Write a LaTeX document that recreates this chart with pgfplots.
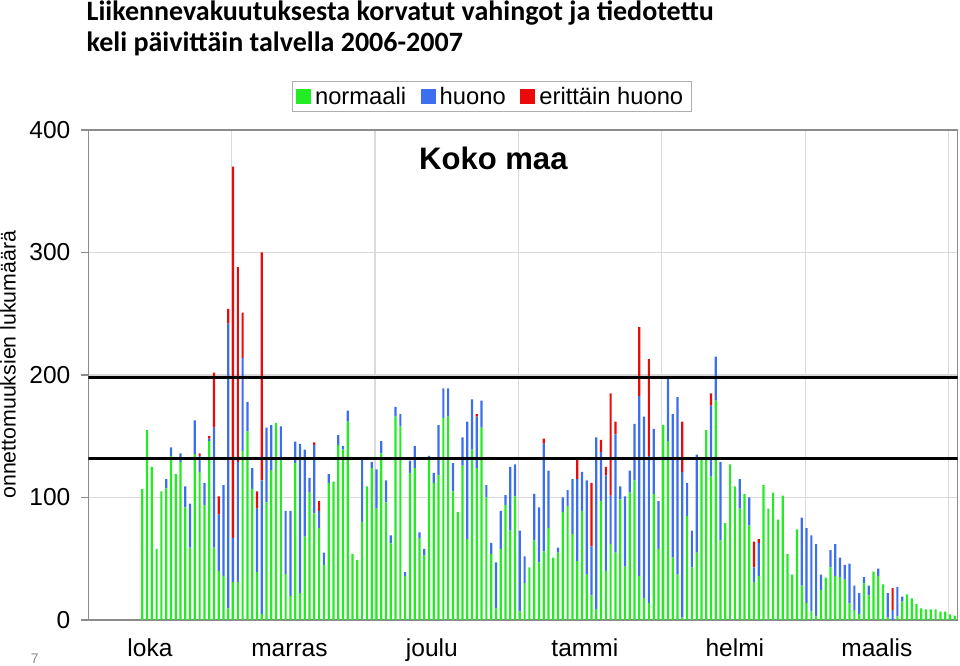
\documentclass[border=0pt]{standalone}
\usepackage{fontspec}
\setmainfont{Liberation Sans}
\newfontfamily\titlefont{Carlito}
\usepackage{pgfplots}
\usepackage{pgfplotstable}
\pgfplotsset{compat=1.18}
\definecolor{cgreen}{RGB}{36,236,36}
\definecolor{cblue}{RGB}{60,110,240}
\definecolor{cred}{RGB}{235,10,10}
\definecolor{framegray}{RGB}{140,140,140}
\definecolor{gridgray}{RGB}{218,218,218}
\pgfplotstableread{
x g b r
0 107 0 0
1 155 0 0
2 125 0 0
3 58 0 0
4 105 0 0
5 107.5 7.5 0
6 134 7 0
7 119 0 0
8 129 7 0
9 92 17 0
10 59 36 0
11 135.5 27.5 0
12 121 13 2
13 94 18 0
14 146 2 2
15 59 98 45
16 40 46 15
17 36 74 0
18 9.5 232.5 12
19 31 36 303
20 31 98 159
21 138 76 37
22 154 24 0
23 107 17 0
24 39 52 14
25 5 109 186
26 96 61 0
27 122 37 0
28 161 0 0
29 131 27 0
30 37.5 51.5 0
31 19.6 69.4 0
32 128 17.6 0
33 22 121.7 0
34 68 71 0
35 104 12 0
36 87 56 2
37 75 14 8
38 45 10 0
39 112 7 0
40 113 0 0
41 143 8 0
42 139 3 0
43 162 9 0
44 54 0 0
45 49 0 0
46 80 52 0
47 109 0 0
48 124 5 0
49 91 32 0
50 136 10 0
51 96 18 0
52 62.5 6.5 0
53 166 8 0
54 158 10 0
55 36 3 0
56 120 10 0
57 124 18 0
58 67 4.6 0
59 52.5 5.5 0
60 133 1 0
61 112 8 0
62 118 41 0
63 165 24 0
64 166 23 0
65 105 23 0
66 88 0 0
67 126 23 0
68 66 96 0
69 139 41 0
70 124 42 2
71 157 22 0
72 100 10 0
73 54 9 0
74 9.5 37.5 0
75 58 31 0
76 94 8 0
77 73 52 0
78 101 26 0
79 7 66 0
80 30 22 0
81 43 0 0
82 65 38 0
83 47 45 0
84 56 88 4
85 75 47 0
86 51 0 0
87 55 4 0
88 88 12 0
89 93 13 0
90 70 45 0
91 48 67 16
92 89 32 0
93 37 77 0
94 20 40 52
95 9 140 0
96 97 40 10
97 40 78 7
98 62 39.5 83.5
99 55 96.6 10.4
100 98.5 10.5 0
101 43.5 57.5 0
102 104 18 0
103 114 46 0
104 36 147 56
105 18 148 0
106 14 120 79
107 103 53 0
108 58 39 0
109 159 0 0
110 146 52 0
111 51 117 0
112 37 145 0
113 2 119 41
114 85 27 0
115 43 30 0
116 55 80 0
117 132 0 0
118 155 0 0
119 117 58 10
120 179 36 0
121 65 64 0
122 79 0 0
123 127 0 0
124 109 0 0
125 91 24 0
126 103 0 0
127 77 23 0
128 31 12 21
129 36 27 3
130 110 0 0
131 91 0 0
132 104 0 0
133 82 0 0
134 101.5 0 0
135 54 0 0
136 37 0 0
137 74 0 0
138 28 55.5 0
139 14 61 0
140 7 62 0
141 3 59 0
142 24.5 12.5 0
143 34.5 0 0
144 43 14 0
145 36 26 0
146 35 16 0
147 33 12 0
148 13.6 32.4 0
149 8 20 0
150 5 17 0
151 30 5 0
152 20 8 0
153 39.5 0 0
154 36 6 0
155 29 0 0
156 2 20 0
157 0 8 18
158 3 24 0
159 15 4 0
160 21 0 0
161 17.7 0 0
162 13 0 0
163 9.5 0 0
164 8.7 0 0
165 8.7 0 0
166 8.7 0 0
167 6.8 0 0
168 6.8 0 0
169 4.6 0 0
170 3.5 0 0
}\datatable
\begin{document}
\begin{tikzpicture}
\path[use as bounding box] (0pt,0pt) rectangle (720pt,499.5pt);
\begin{axis}[
  at={(66.2pt,34.5pt)}, anchor=south west, scale only axis,
  width=652pt, height=367.5pt,
  xmin=-11.3, xmax=170.6, ymin=0, ymax=400,
  ybar stacked, bar width=1.65pt,
  ytick={0,100,...,400},
  xtick={18.7,48.7,78.7,108.7,138.7,168.7}, xticklabels={},
  xtick style={draw=none},
  extra x ticks={1.6,30.8,60.6,92.6,124,153.7},
  extra x tick labels={loka,marras,joulu,tammi,helmi,maalis},
  extra x tick style={grid=none, major tick length=0pt,
     xticklabel style={anchor=base, yshift=-27.75pt}},
  ymajorgrids, xmajorgrids,
  major grid style={draw=gridgray, line width=0.8pt},
  axis line style={draw=framegray, line width=0.8pt},
  ytick pos=left, tick align=outside, major tick length=5.25pt,
  ytick style={draw=framegray, line width=0.8pt},
  tick label style={font=\fontsize{18.4pt}{20pt}\selectfont},
  /pgf/number format/assume math mode=true,
  yticklabel style={anchor=east, inner sep=0pt, xshift=-8pt},
  legend columns=3,
  legend style={at={(0.464,1.0373)}, anchor=south, draw=gridgray!80!black,
     font=\fontsize{17.8pt}{20pt}\selectfont, inner xsep=3pt, inner ysep=3pt,
     nodes={inner xsep=3pt, inner ysep=1pt},
     /tikz/every even column/.append style={column sep=8pt}},
  legend image code/.code={\fill[#1] (0pt,-5.3pt) rectangle (11.25pt,5.3pt);},
]
\addplot[fill=cgreen, draw=none] table[x=x, y=g] {\datatable};
\addplot[fill=cblue, draw=none] table[x=x, y=b] {\datatable};
\addplot[fill=cred, draw=none] table[x=x, y=r] {\datatable};
\legend{normaali, huono, erittäin huono}
\end{axis}
\begin{axis}[
  at={(66.2pt,34.5pt)}, anchor=south west, scale only axis,
  width=652pt, height=367.5pt,
  xmin=-11.3, xmax=170.6, ymin=0, ymax=400, hide axis]
\addplot[black, line width=2.2pt] coordinates {(-11.3,198) (170.6,198)};
\addplot[black, line width=2.2pt] coordinates {(-11.3,132) (170.6,132)};
\end{axis}
\node[anchor=base west, font=\titlefont\bfseries\fontsize{21pt}{24pt}\selectfont] at (61.5pt,483.75pt) {Liikennevakuutuksesta korvatut vahingot ja tiedotettu};
\node[anchor=base west, font=\titlefont\bfseries\fontsize{21pt}{24pt}\selectfont] at (61.5pt,460.5pt) {keli päivittäin talvella 2006-2007};
\node[anchor=base, font=\bfseries\fontsize{23.3pt}{26pt}\selectfont] at (370pt,372pt) {Koko maa};
\node[anchor=base, rotate=90, font=\fontsize{16pt}{18pt}\selectfont] at (11.8pt,226pt) {onnettomuuksien lukumäärä};
\node[anchor=base, text=black!45, font=\fontsize{10.5pt}{12pt}\selectfont] at (26pt,1.5pt) {7};
\end{tikzpicture}
\end{document}
